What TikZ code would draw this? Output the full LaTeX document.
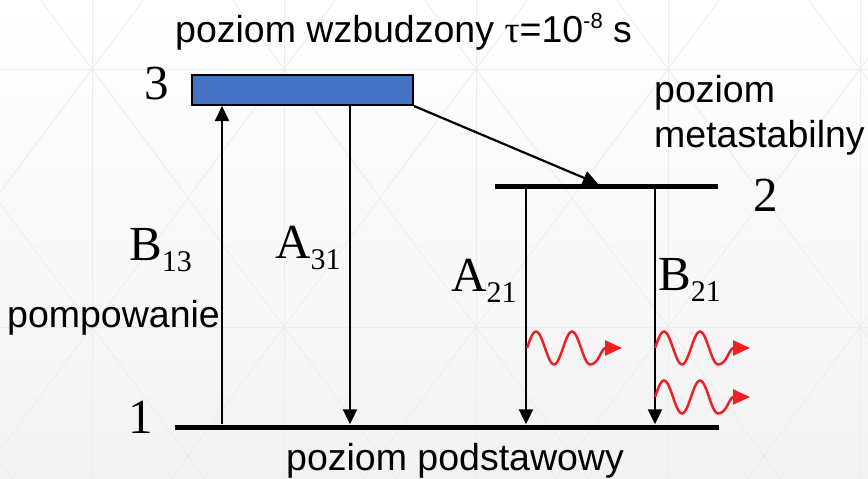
\documentclass[tikz,border=0pt]{standalone}
\usepackage{fontspec}
\setmainfont{Liberation Sans}
\newfontfamily\szeryf{Liberation Serif}
\usetikzlibrary{arrows.meta}

\definecolor{niebieski}{RGB}{68,114,196}
\definecolor{czerwony}{RGB}{237,32,36}
\definecolor{siatka}{RGB}{236,236,236}

\tikzset{
  tlo/.style={draw=siatka, line width=0.8pt},
  poziom/.style={fill=black, inner sep=0pt, minimum height=5pt},
  strzalka/.style={-{Triangle[length=15pt,width=14pt]}, line width=2.2pt},
  foton/.style={-{Triangle[length=17pt,width=15pt]}, line width=2.5pt, czerwony},
  opis/.style={inner sep=0pt, anchor=base west, font=\fontsize{37.5}{45}\selectfont},
  liczba/.style={inner sep=0pt, anchor=base, font=\szeryf\fontsize{49}{55}\selectfont},
  wsp/.style={inner sep=0pt, anchor=base west, font=\szeryf\fontsize{49}{55}\selectfont},
}

% litera z indeksem dolnym
\newcommand{\indeks}[2]{#1\raisebox{-11pt}{\fontsize{30}{30}\selectfont #2}}

% falka fotonu zaczepiona w punkcie
\newcommand{\fala}[1]{%
  \begin{scope}[shift={(#1)}]
    \draw[foton] plot[domain=0:1.75, samples=50, smooth] ({36*\x}, {-16.5*sin(360*\x)})
      .. controls (72,16.5) and (74,0) .. (95,0);
  \end{scope}}

\begin{document}
\begin{tikzpicture}[x=1pt, y=-1pt]

    \useasboundingbox (0,0) rectangle (868,479);

    % Tlo
    \fill[top color=white, bottom color=black!5] (0,0) rectangle (868,479);
    \begin{scope}
        \clip (0,0) rectangle (868,479);
        \foreach \kx in {-100,92,284,476,668,860} {
            \foreach \ky in {-189,69,327} {
                \draw[tlo] (\kx,\ky) -- ++(192,258) (\kx+192,\ky) -- ++(-192,258);
            }
        }
        \foreach \kx in {92,284,476,668,860} \draw[tlo] (\kx,0) -- (\kx,479);
        \foreach \ky in {69,327} \draw[tlo] (0,\ky) -- (868,\ky);
    \end{scope}

    % Poziomy energetyczne
    \node[poziom, minimum width=544pt] (p1) at (447,427) {};
    \node[poziom, minimum width=223pt] (p2) at (606.5,186.5) {};
    \node[draw=black, line width=2pt, fill=niebieski, inner sep=0pt,
          minimum width=221pt, minimum height=30pt] (p3) at (302.5,90) {};

    % Kolumny przejsc
    \coordinate (kB13) at (222,0);
    \coordinate (kA31) at (350,0);
    \coordinate (kA21) at (526,0);
    \coordinate (kB21) at (655,0);
    \coordinate (kT) at (598,0);

    % Przejscia
    \draw[strzalka] (kB13 |- p1.north) -- (kB13 |- p3.south);
    \draw[strzalka] (kA31 |- p3.south) -- (kA31 |- p1.north);
    \draw[strzalka] (p3.south east) -- (kT |- p2.north);
    \draw[strzalka] (kA21 |- p2.south) -- (kA21 |- p1.north);
    \draw[strzalka] (kB21 |- p2.south) -- (kB21 |- p1.north);

    % Fotony
    \coordinate (w1) at (527,348);
    \coordinate (w2) at (655,348);
    \coordinate (w3) at (655,397);
    \fala{w1}
    \fala{w2}
    \fala{w3}

    % Numery poziomow
    \node[liczba] (n3) at (157,99) {3};
    \node[liczba] (n2) at (765.5,211) {2};
    \node[liczba] (n1) at (141,433) {1};

    % Wspolczynniki Einsteina
    \node[wsp] (lB13) at (129,260) {\indeks{B}{13}};
    \node[wsp] (lA31) at (275,258) {\indeks{A}{31}};
    \node[wsp] (lA21) at (451,291) {\indeks{A}{21}};
    \node[wsp] (lB21) at (658,290) {\indeks{B}{21}};

    % Opisy
    \node[opis] (wzb) at (175,42)
    {poziom wzbudzony {\szeryf τ}=10\raisebox{14pt}{\fontsize{22}{22}\selectfont -8} s};
    \node[opis] (meta1) at (654,102) {poziom};
    \node[opis] (meta2) at (654,147) {metastabilny};
    \node[opis] (pomp) at (7,327) {pompowanie};
    \node[opis] (podst) at (286,470) {poziom podstawowy};

\end{tikzpicture}
\end{document}
